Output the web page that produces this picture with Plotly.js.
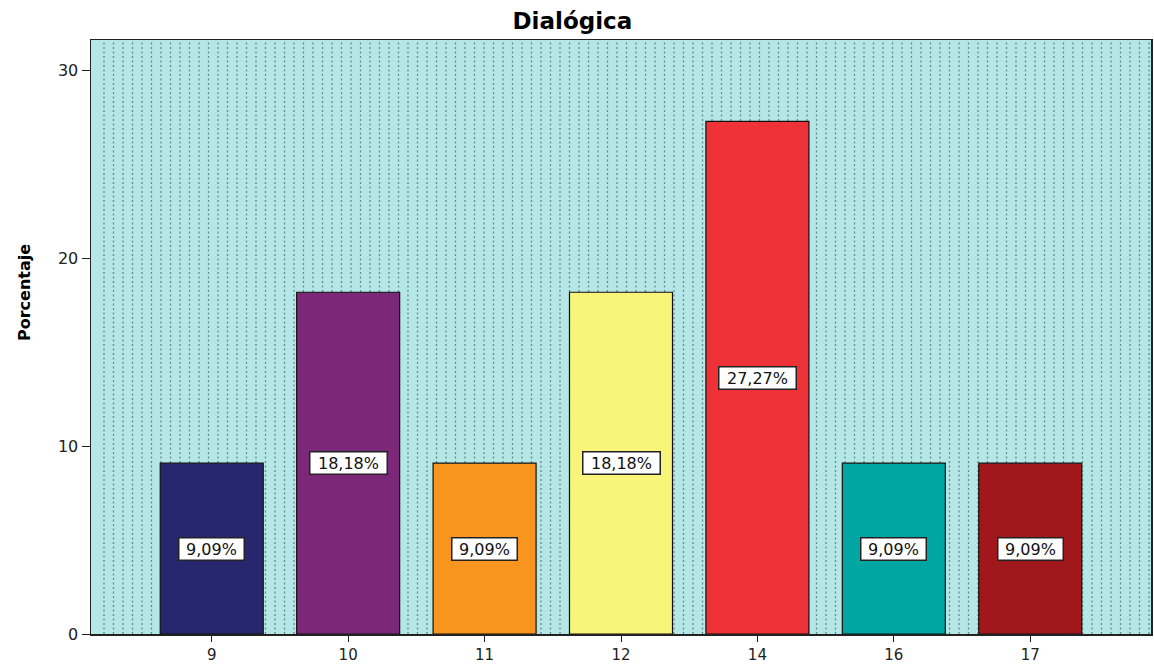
<!DOCTYPE html>
<html>
<head>
<meta charset="utf-8">
<script src="https://cdn.plot.ly/plotly-3.0.1.min.js"></script>
<style>html,body{margin:0;padding:0;background:#fff;}</style>
</head>
<body>
<div id="chart" style="width:1154px;height:664px;"></div>
<script>
const categories = ["9", "10", "11", "12", "14", "16", "17"];
const percentages = [9.09, 18.18, 9.09, 18.18, 27.27, 9.09, 9.09];
const labels = ["9,09%", "18,18%", "9,09%", "18,18%", "27,27%", "9,09%", "9,09%"];
const barColors = ["#27276f", "#7b2878", "#f7951f", "#f9f47a", "#ef3238", "#00a6a2", "#a0181c"];
const yTicks = [0, 10, 20, 30];

const FONT = "DejaVu Sans, Verdana, sans-serif";

const trace = {
  type: "bar",
  x: categories,
  y: percentages,
  width: 0.755,
  marker: {color: barColors, line: {color: "#111", width: 1.2}},
  hoverinfo: "none"
};

const annotations = categories.map((c, i) => ({
  x: i, y: percentages[i] / 2, xref: "x", yref: "y",
  text: labels[i], showarrow: false,
  font: {family: FONT, size: 16, color: "#111"},
  width: labels[i].length > 5 ? 74 : 62, height: 19,
  bgcolor: "#fff", bordercolor: "#222", borderwidth: 1.5, borderpad: 1
}));

// y-axis title placed as annotation (it sits above plot centre in the reference)
annotations.push({
  xref: "paper", yref: "paper", x: 0, y: 0.574, xshift: -67,
  xanchor: "center", yanchor: "middle", textangle: -90,
  text: "<b>Porcentaje</b>", showarrow: false,
  font: {family: FONT, size: 16, color: "#000"}
});

// decorative dotted background pattern
const shapes = [];
const plotW = 1060;
for (let px = 13; px < plotW; px += 9.5) {
  const xp = px / plotW;
  shapes.push({type: "line", xref: "paper", yref: "paper", x0: xp, x1: xp, y0: 0, y1: 1,
    layer: "below", line: {color: "#648b8b", width: 1.3, dash: "2px,2.5px"}});
}

const layout = {
  width: 1154, height: 664,
  margin: {l: 91, r: 3, t: 40, b: 30},
  paper_bgcolor: "#fff",
  plot_bgcolor: "#b5e7e7",
  title: {text: "<b>Dialógica</b>", x: 0.496, xanchor: "center", y: 0.968, yanchor: "middle",
    font: {family: FONT, size: 23, color: "#000"}},
  xaxis: {
    type: "category", range: [-0.885, 6.885],
    showline: true, linecolor: "#222", linewidth: 1.5, mirror: true,
    ticks: "outside", ticklen: 6, tickcolor: "#222",
    tickfont: {family: FONT, size: 15, color: "#222"},
    showgrid: false, zeroline: false, fixedrange: true
  },
  yaxis: {
    range: [0, 31.6], tickvals: yTicks,
    showline: true, linecolor: "#222", linewidth: 1.5, mirror: true,
    ticks: "outside", ticklen: 8, tickcolor: "#222",
    tickfont: {family: FONT, size: 16, color: "#222"},
    showgrid: false, zeroline: false
  },
  annotations: annotations,
  shapes: shapes,
  showlegend: false,
  bargap: 0.2
};

Plotly.newPlot("chart", [trace], layout, {displayModeBar: false, staticPlot: true});
</script>
</body>
</html>
